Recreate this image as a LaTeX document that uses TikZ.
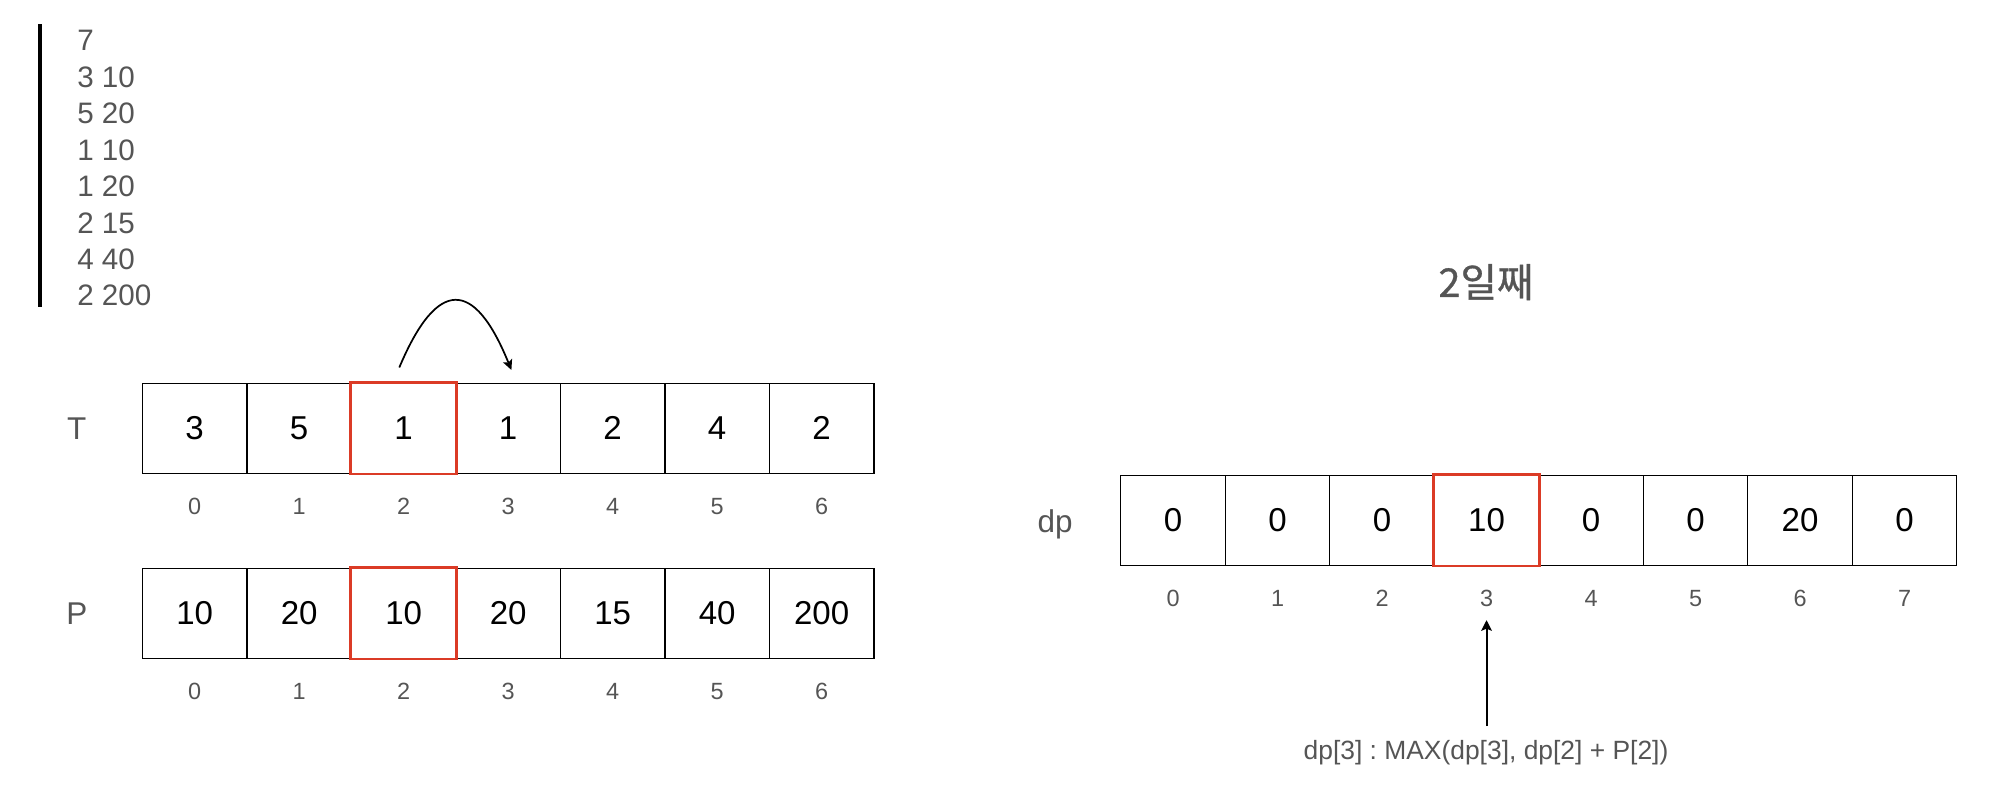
\documentclass[tikz,border=0pt]{standalone}
\usepackage{fontspec}
\setmainfont{Liberation Sans}
\newfontfamily\krfont[FakeBold=0.8]{Noto Sans CJK KR}
\usetikzlibrary{arrows.meta}
\definecolor{txtgray}{RGB}{85,85,85}
\definecolor{hlred}{RGB}{219,59,38}
\newcommand{\fsz}[1]{\fontsize{#1}{#1}\selectfont}
\frenchspacing
\begin{document}
\begin{tikzpicture}[x=0.375pt,y=-0.375pt,
  cell/.style={draw=black,line width=0.5pt,minimum width=39.1875pt,minimum height=33.75pt,inner sep=0pt,text depth=0pt,font=\fsz{12.4pt}},
  idx/.style={inner sep=0pt,text depth=0pt,text=txtgray,font=\fsz{8.8pt}},
  lbl/.style={inner sep=0pt,text depth=0pt,text=txtgray,font=\fsz{11.8pt}},
  inp/.style={inner sep=0pt,text depth=0pt,anchor=west,text=txtgray,font=\fsz{11.1pt}},
  hl/.style={draw=hlred,line width=1pt},
  arr/.style={line width=0.75pt,-{Stealth[length=4pt,width=4pt,inset=0.8pt]}},
  arcarr/.style={line width=0.65pt,-{Stealth[length=3.8pt,width=3.6pt,inset=0.8pt]}}]
\useasboundingbox (0,0) rectangle (2008,804);
% input block
\fill[black] (37.5,23.8) rectangle (41.8,307.3);
\foreach \t [count=\i from 0] in {7,3 10,5 20,1 10,1 20,2 15,4 40,2 200}
  \node[inp] (in\i) at (76.8,40.8+36.4*\i) {\t};
% T row
\node[lbl] (Tl) at (76.8,428.3) {T};
\foreach \v [count=\i from 0] in {3,5,1,1,2,4,2}
  \node[cell] (t\i) at (194.65+104.5*\i,428.3) {\v};
\foreach \i in {0,...,6}
  \node[idx] (ti\i) at (194.65+104.5*\i,506.5) {\i};
\draw[hl] (t2.north west) rectangle (t2.south east);
% P row
\node[lbl] (Pl) at (76.8,613.3) {P};
\foreach \v [count=\i from 0] in {10,20,10,20,15,40,200}
  \node[cell] (p\i) at (194.65+104.5*\i,613.3) {\v};
\foreach \i in {0,...,6}
  \node[idx] (pi\i) at (194.65+104.5*\i,691.8) {\i};
\draw[hl] (p2.north west) rectangle (p2.south east);
% arc
\coordinate (arcS) at (399.3,367.5);
\coordinate (arcE) at (511.4,370);
\draw[arcarr] (arcS) .. controls (437,278) and (474,278) .. (arcE);
% right side
\node[inner sep=0pt,text=txtgray,font=\krfont\fsz{14.9pt},anchor=base] (title) at (1486,297) {2일째};
\node[lbl,anchor=base] (dpl) at (1055,533) {dp};
\foreach \v [count=\i from 0] in {0,0,0,10,0,0,20,0}
  \node[cell] (d\i) at (1173.05+104.5*\i,520.3) {\v};
\foreach \i in {0,...,7}
  \node[idx] (di\i) at (1173.05+104.5*\i,598.6) {\i};
\draw[hl] (d3.north west) rectangle (d3.south east);
\node[inner sep=0pt,text=txtgray,font=\fsz{9.9pt},anchor=base] (formula) at (1486,760) {dp[3] : MAX(dp[3], dp[2] + P[2])};
\draw[arr,shorten <=5.3pt,shorten >=4.8pt] (formula.north -| di3.south) -- (di3.south);
\end{tikzpicture}
\end{document}
